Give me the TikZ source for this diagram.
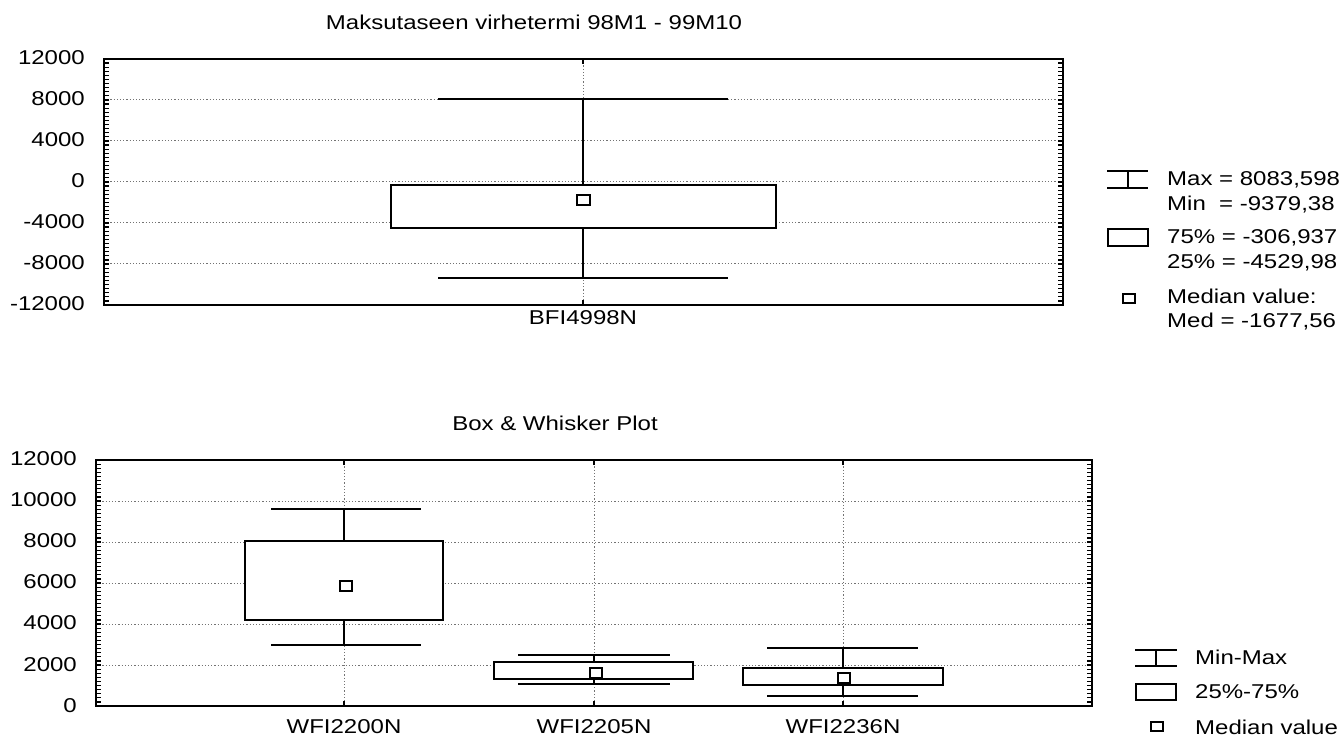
\documentclass[tikz,border=0pt]{standalone}
\usepackage{fontspec}
\setmainfont{Liberation Sans}[FakeStretch=1.2]
\begin{document}
\begin{tikzpicture}[x=1pt,y=-1pt,
  every node/.style={font=\fontsize{20}{24}\selectfont, inner sep=0pt},
  frame/.style={line width=2.6pt},
  grid/.style={line width=0.7pt, black!55, dash pattern=on 1.2pt off 2pt},
  boxln/.style={line width=2pt},
  whisk/.style={line width=2.2pt},
  med/.style={line width=1.8pt},
  tick/.style={line width=1.2pt}]
\useasboundingbox (0,0) rectangle (1344,738);

% ================= top plot =================
\node (title1) at (534,22) {Maksutaseen virhetermi 98M1 - 99M10};
\foreach \v/\y in {12000/58,8000/99,4000/140,0/181,-4000/222,-8000/263,-12000/304}
  \node[anchor=east] (ty\v) at (85,\y) {\v};
% grid
\foreach \y in {99,140,181,222,263} \draw[grid] (104,\y) -- (1063,\y);
\draw[grid] (583,59) -- (583,305);
% ticks
\foreach \i in {0,...,60} {
  \pgfmathsetmacro{\yy}{59+\i*246/60}
  \draw[tick] (104,\yy) -- (109,\yy);
  \draw[tick] (1063,\yy) -- (1058,\yy);
}
\draw[tick] (583,59) -- (583,64);
\draw[tick] (583,305) -- (583,300);
\draw[frame] (104,59) rectangle (1063,305);
% box and whiskers
\draw[whisk] (438,99) -- (728,99);
\draw[whisk] (438,278) -- (728,278);
\draw[whisk] (583,99) -- (583,185);
\draw[whisk] (583,228) -- (583,278);
\draw[boxln, fill=white] (391,185) rectangle (776,228);
\draw[med] (577,195) rectangle (590,205);
\node (xl1) at (583,318) {BFI4998N};
% legend
\draw[whisk] (1107,171) -- (1148,171);
\draw[whisk] (1107,188) -- (1148,188);
\draw[whisk] (1128,171) -- (1128,188);
\draw[boxln] (1108,229) rectangle (1148,246);
\draw[med] (1123,294) rectangle (1135,303);
\node[anchor=west] (lg1) at (1167,180) {Max = 8083,598};
\node[anchor=west] (lg2) at (1167,205) {Min \ = -9379,38};
\node[anchor=west] (lg3) at (1167,238) {75\% = -306,937};
\node[anchor=west] (lg4) at (1167,263) {25\% = -4529,98};
\node[anchor=west] (lg5) at (1167,296) {Median value:};
\node[anchor=west] (lg6) at (1167,322) {Med = -1677,56};

% ================= bottom plot =================
\node (title2) at (555,423) {Box \& Whisker Plot};
\foreach \v/\y in {12000/459,10000/500,8000/541,6000/582,4000/623,2000/665,0/706}
  \node[anchor=east] (by\v) at (77,\y) {\v};
\foreach \y in {501,542,583,624,665} \draw[grid] (96,\y) -- (1092,\y);
\foreach \x in {344,594,843} {
  \draw[grid] (\x,460) -- (\x,706);
  \draw[tick] (\x,460) -- (\x,465);
  \draw[tick] (\x,706) -- (\x,701);
}
\foreach \i in {0,...,60} {
  \pgfmathsetmacro{\yy}{460+\i*246/60}
  \draw[tick] (96,\yy) -- (101,\yy);
  \draw[tick] (1092,\yy) -- (1087,\yy);
}
\draw[frame] (96,460) rectangle (1092,706);
% WFI2200N
\draw[whisk] (271,509) -- (421,509);
\draw[whisk] (271,645) -- (421,645);
\draw[whisk] (344,509) -- (344,541);
\draw[whisk] (344,620) -- (344,645);
\draw[boxln, fill=white] (245,541) rectangle (443,620);
\draw[med] (340,581) rectangle (352,591);
% WFI2205N
\draw[whisk] (518,655) -- (670,655);
\draw[whisk] (518,684) -- (670,684);
\draw[whisk] (594,655) -- (594,662);
\draw[whisk] (594,679) -- (594,684);
\draw[boxln, fill=white] (494,662) rectangle (693,679);
\draw[med] (590,668) rectangle (602,678);
% WFI2236N
\draw[whisk] (767,648) -- (918,648);
\draw[whisk] (767,696) -- (918,696);
\draw[whisk] (843,648) -- (843,668);
\draw[whisk] (843,685) -- (843,696);
\draw[boxln, fill=white] (743,668) rectangle (943,685);
\draw[med] (838,673) rectangle (850,683);
\node (xb1) at (344,727) {WFI2200N};
\node (xb2) at (594,727) {WFI2205N};
\node (xb3) at (843,727) {WFI2236N};
% legend
\draw[whisk] (1135,650) -- (1177,650);
\draw[whisk] (1135,666) -- (1177,666);
\draw[whisk] (1156,650) -- (1156,666);
\draw[boxln] (1136,684) rectangle (1176,700);
\draw[med] (1151,722) rectangle (1163,731);
\node[anchor=west] (lb1) at (1195,657) {Min-Max};
\node[anchor=west] (lb2) at (1195,692) {25\%-75\%};
\node[anchor=west] (lb3) at (1195,727) {Median value};
\end{tikzpicture}
\end{document}
